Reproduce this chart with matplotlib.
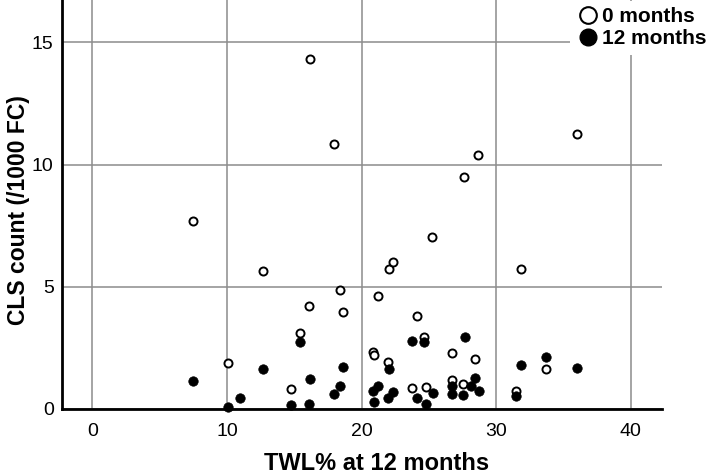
import matplotlib
matplotlib.use("Agg")
import matplotlib.pyplot as plt
from matplotlib.lines import Line2D

plt.rcParams['font.family'] = ['Liberation Sans', 'DejaVu Sans']

# 0 months (open circles)
twl_0 = [7.45, 10.1, 12.7, 14.75, 15.44, 16.13, 16.2, 17.94, 18.4, 18.6,
         20.84, 20.94, 21.2, 21.95, 22.05, 22.3, 23.78, 24.1, 24.65, 24.8,
         25.27, 26.73, 26.75, 27.57, 27.64, 28.43, 28.68, 31.45, 31.88, 33.68, 35.98]
cls_0 = [7.69, 1.87, 5.64, 0.82, 3.12, 4.21, 14.3, 10.83, 4.87, 3.98,
         2.33, 2.2, 4.62, 1.93, 5.71, 6.01, 0.85, 3.8, 2.96, 0.89,
         7.05, 1.17, 2.3, 1.02, 9.49, 2.06, 10.39, 0.75, 5.71, 1.65, 11.26]

# 12 months (filled circles)
twl_12 = [7.45, 10.1, 11.0, 12.7, 14.75, 15.44, 16.13, 16.18, 17.94, 18.4, 18.6,
          20.84, 20.94, 21.2, 21.95, 22.05, 22.3, 23.78, 24.1, 24.65, 24.8,
          25.3, 26.73, 26.75, 27.57, 27.67, 28.1, 28.46, 28.7, 31.45, 31.88, 33.68, 35.98]
cls_12 = [1.15, 0.1, 0.45, 1.62, 0.16, 2.73, 0.22, 1.23, 0.6, 0.95, 1.73,
          0.74, 0.3, 0.93, 0.46, 1.65, 0.68, 2.79, 0.44, 2.75, 0.22,
          0.65, 0.95, 0.6, 0.57, 2.96, 0.95, 1.27, 0.72, 0.53, 1.79, 2.13, 1.69]

fig = plt.figure(figsize=(7.09, 4.76), dpi=100)
ax = fig.add_axes([0.0874, 0.1408, 0.846, 0.859])

ax.plot(twl_0, cls_0, 'o', mfc='white', mec='black', mew=1.4, ms=5.8, ls='none', zorder=3, clip_on=False)
ax.plot(twl_12, cls_12, 'o', mfc='black', mec='black', mew=0.5, ms=6.8, ls='none', zorder=4, clip_on=False)

ax.set_xlim(-2.25, 42.3)
ax.set_ylim(0, 16.73)
ax.set_xticks([0, 10, 20, 30, 40])
ax.set_yticks([0, 5, 10, 15])
ax.grid(True, color='#8c8c8c', lw=1.1)
ax.set_axisbelow(True)
for s in ['top', 'right']:
    ax.spines[s].set_visible(False)
for s in ['left', 'bottom']:
    ax.spines[s].set_linewidth(2)
ax.tick_params(length=0, labelsize=14)
ax.tick_params(axis='x', pad=10)
ax.tick_params(axis='y', pad=6)

ax.set_xlabel('TWL% at 12 months', fontsize=17, fontweight='bold')
ax.set_ylabel('CLS count (/1000 FC)', fontsize=16.5, fontweight='bold')
ax.xaxis.set_label_coords(0.525, -0.105)
ax.yaxis.set_label_coords(-0.054, 0.487)

handles = [
    Line2D([], [], marker='o', ls='none', mfc='white', mec='black', mew=1.5, ms=12),
    Line2D([], [], marker='o', ls='none', mfc='black', mec='black', ms=12),
]
leg = ax.legend(handles, ['0 months', '12 months'], loc='upper right',
                bbox_to_anchor=(1.02, 1.02), bbox_transform=fig.transFigure,
                frameon=True, fancybox=False, edgecolor='none', facecolor='white',
                framealpha=1, handletextpad=0.05, labelspacing=0.15,
                borderpad=0.3, handlelength=1.2,
                prop={'weight': 'bold', 'size': 15})
leg.set_zorder(10)

fig.savefig('out.png', dpi=100)
